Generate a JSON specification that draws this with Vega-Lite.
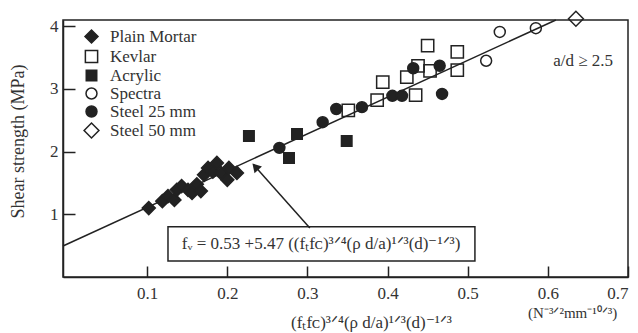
{
  "$schema": "https://vega.github.io/schema/vega-lite/v6.json",
  "width": 565,
  "height": 257,
  "autosize": {"type": "none"},
  "padding": {"left": 63, "top": 20, "right": 10, "bottom": 56},
  "background": "white",
  "config": {
    "view": {"stroke": "#222", "strokeWidth": 1.5},
    "font": "Liberation Serif",
    "axis": {
      "grid": false,
      "domainColor": "#222",
      "domainWidth": 1.5,
      "tickColor": "#222",
      "tickWidth": 1.5,
      "labelFont": "Liberation Serif",
      "labelFontSize": 17,
      "labelColor": "#333",
      "titleFont": "Liberation Serif",
      "titleFontWeight": "normal",
      "titleColor": "#333"
    },
    "legend": {
      "title": null,
      "orient": "none",
      "legendX": 20,
      "legendY": 8,
      "labelFontSize": 17,
      "labelFont": "Liberation Serif",
      "labelColor": "#333",
      "labelOffset": 10,
      "rowPadding": 0,
      "padding": 0,
      "symbolStrokeColor": "#222",
      "symbolStrokeWidth": 1.5
    }
  },
  "datasets": {
    "pts": [
      {"x": 0.102, "y": 1.10, "series": "Plain Mortar"},
      {"x": 0.119, "y": 1.21, "series": "Plain Mortar"},
      {"x": 0.126, "y": 1.29, "series": "Plain Mortar"},
      {"x": 0.134, "y": 1.23, "series": "Plain Mortar"},
      {"x": 0.137, "y": 1.39, "series": "Plain Mortar"},
      {"x": 0.143, "y": 1.45, "series": "Plain Mortar"},
      {"x": 0.151, "y": 1.39, "series": "Plain Mortar"},
      {"x": 0.156, "y": 1.34, "series": "Plain Mortar"},
      {"x": 0.162, "y": 1.48, "series": "Plain Mortar"},
      {"x": 0.167, "y": 1.37, "series": "Plain Mortar"},
      {"x": 0.171, "y": 1.63, "series": "Plain Mortar"},
      {"x": 0.176, "y": 1.74, "series": "Plain Mortar"},
      {"x": 0.182, "y": 1.68, "series": "Plain Mortar"},
      {"x": 0.187, "y": 1.82, "series": "Plain Mortar"},
      {"x": 0.192, "y": 1.66, "series": "Plain Mortar"},
      {"x": 0.200, "y": 1.55, "series": "Plain Mortar"},
      {"x": 0.202, "y": 1.74, "series": "Plain Mortar"},
      {"x": 0.212, "y": 1.66, "series": "Plain Mortar"},
      {"x": 0.351, "y": 2.66, "series": "Kevlar"},
      {"x": 0.387, "y": 2.82, "series": "Kevlar"},
      {"x": 0.394, "y": 3.11, "series": "Kevlar"},
      {"x": 0.424, "y": 3.19, "series": "Kevlar"},
      {"x": 0.438, "y": 3.37, "series": "Kevlar"},
      {"x": 0.453, "y": 3.29, "series": "Kevlar"},
      {"x": 0.435, "y": 2.90, "series": "Kevlar"},
      {"x": 0.450, "y": 3.69, "series": "Kevlar"},
      {"x": 0.487, "y": 3.59, "series": "Kevlar"},
      {"x": 0.487, "y": 3.30, "series": "Kevlar"},
      {"x": 0.227, "y": 2.25, "series": "Acrylic"},
      {"x": 0.287, "y": 2.28, "series": "Acrylic"},
      {"x": 0.277, "y": 1.90, "series": "Acrylic"},
      {"x": 0.349, "y": 2.17, "series": "Acrylic"},
      {"x": 0.523, "y": 3.45, "series": "Spectra"},
      {"x": 0.540, "y": 3.91, "series": "Spectra"},
      {"x": 0.585, "y": 3.97, "series": "Spectra"},
      {"x": 0.265, "y": 2.06, "series": "Steel 25 mm"},
      {"x": 0.319, "y": 2.47, "series": "Steel 25 mm"},
      {"x": 0.336, "y": 2.68, "series": "Steel 25 mm"},
      {"x": 0.368, "y": 2.71, "series": "Steel 25 mm"},
      {"x": 0.406, "y": 2.89, "series": "Steel 25 mm"},
      {"x": 0.418, "y": 2.89, "series": "Steel 25 mm"},
      {"x": 0.432, "y": 3.33, "series": "Steel 25 mm"},
      {"x": 0.465, "y": 3.37, "series": "Steel 25 mm"},
      {"x": 0.468, "y": 2.92, "series": "Steel 25 mm"},
      {"x": 0.635, "y": 4.12, "series": "Steel 50 mm"}
    ],
    "fit": [
      {"x": -0.005, "y": 0.495},
      {"x": 0.61, "y": 4.1}
    ],
    "box": [
      {"x": 0.126, "x2": 0.509, "y": 0.255, "y2": 0.80}
    ],
    "arrow": [
      {"x": 0.303, "y": 0.78, "x2": 0.235, "y2": 1.76}
    ],
    "head": [
      {"x": 0.235, "y": 1.76}
    ],
    "formula": [
      {"x": 0.317, "y": 0.52, "label": "fᵥ = 0.53 +5.47 ((fₜfᴄ)³ᐟ⁴(ρ d/a)¹ᐟ³(d)⁻¹ᐟ³)"}
    ],
    "note": [
      {"x": 0.644, "y": 3.45, "label": "a/d ≥ 2.5"}
    ],
    "units": [
      {"x": 0.631, "y": -0.574, "label": "(N⁻³ᐟ²mm⁻¹⁰ᐟ³)"}
    ]
  },
  "encoding": {
    "x": {
      "field": "x",
      "type": "quantitative",
      "scale": {"domain": [-0.005, 0.7], "nice": false, "zero": false},
      "axis": {
        "values": [0.1, 0.2, 0.3, 0.4, 0.5, 0.6, 0.7],
        "format": ".1f",
        "tickSize": -11,
        "labelPadding": 19,
        "title": "(fₜfᴄ)³ᐟ⁴(ρ d/a)¹ᐟ³(d)⁻¹ᐟ³",
        "titleFontSize": 17,
        "titleX": 308,
        "titleY": 45,
        "titleAnchor": null,
        "titleAlign": "center",
        "titleBaseline": "middle"
      }
    },
    "y": {
      "field": "y",
      "type": "quantitative",
      "scale": {"domain": [0, 4.1], "nice": false, "zero": false},
      "axis": {
        "values": [1, 2, 3, 4],
        "format": "d",
        "tickSize": -12,
        "labelPadding": 17,
        "title": "Shear strength    (MPa)",
        "titleFontSize": 18,
        "titleX": -45,
        "titleY": 121,
        "titleAlign": "center",
        "titleBaseline": "middle",
        "titleAngle": -90
      }
    }
  },
  "layer": [
    {
      "data": {"name": "fit"},
      "mark": {"type": "line", "color": "#222", "strokeWidth": 1.5}
    },
    {
      "data": {"name": "box"},
      "mark": {"type": "rect", "fill": "white", "stroke": "#222", "strokeWidth": 1.5},
      "encoding": {"x2": {"field": "x2"}, "y2": {"field": "y2"}}
    },
    {
      "data": {"name": "arrow"},
      "mark": {"type": "rule", "color": "#222", "strokeWidth": 1.5},
      "encoding": {"x2": {"field": "x2"}, "y2": {"field": "y2"}}
    },
    {
      "data": {"name": "head"},
      "mark": {"type": "point", "shape": "triangle-up", "angle": 318, "size": 100, "filled": true, "color": "#222", "opacity": 1}
    },
    {
      "data": {"name": "pts"},
      "mark": {"type": "point", "filled": true, "strokeWidth": 1.5, "opacity": 1},
      "encoding": {
        "shape": {
          "field": "series", "type": "nominal",
          "scale": {"domain": ["Plain Mortar", "Kevlar", "Acrylic", "Spectra", "Steel 25 mm", "Steel 50 mm"], "range": ["diamond", "square", "square", "circle", "circle", "diamond"]}
        },
        "fill": {
          "field": "series", "type": "nominal",
          "scale": {"domain": ["Plain Mortar", "Kevlar", "Acrylic", "Spectra", "Steel 25 mm", "Steel 50 mm"], "range": ["#222", "transparent", "#222", "transparent", "#222", "transparent"]}
        },
        "stroke": {
          "field": "series", "type": "nominal",
          "scale": {"domain": ["Plain Mortar", "Kevlar", "Acrylic", "Spectra", "Steel 25 mm", "Steel 50 mm"], "range": ["#222", "#222", "#222", "#222", "#222", "#222"]}
        },
        "size": {
          "field": "series", "type": "nominal",
          "scale": {"type": "ordinal", "domain": ["Plain Mortar", "Kevlar", "Acrylic", "Spectra", "Steel 25 mm", "Steel 50 mm"], "range": [170, 150, 110, 120, 120, 220]}
        }
      }
    },
    {
      "data": {"name": "formula"},
      "mark": {"type": "text", "font": "Liberation Serif", "fontSize": 17, "color": "#333", "align": "center", "baseline": "middle"},
      "encoding": {"text": {"field": "label"}}
    },
    {
      "data": {"name": "note"},
      "mark": {"type": "text", "font": "Liberation Serif", "fontSize": 17, "color": "#333", "align": "center", "baseline": "middle"},
      "encoding": {"text": {"field": "label"}}
    },
    {
      "data": {"name": "units"},
      "mark": {"type": "text", "font": "Liberation Serif", "fontSize": 15, "color": "#333", "align": "center", "baseline": "middle"},
      "encoding": {"text": {"field": "label"}}
    }
  ]
}
